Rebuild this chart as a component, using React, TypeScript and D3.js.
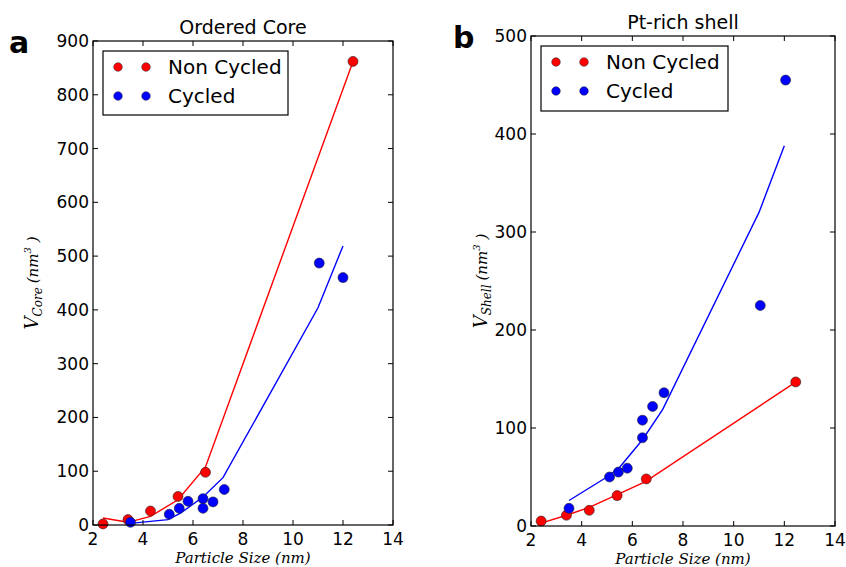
import React from "react";
import * as d3 from "d3";

const coreRedPts: [number, number][] = [[2.4, 2], [3.4, 10], [4.3, 26], [5.4, 53], [6.5, 98], [12.4, 862]];
const coreRedLine: [number, number][] = [[2.4, 13], [3.4, 5], [4.3, 16], [5.4, 47], [6.5, 108], [12.4, 862]];
const coreBluePts: [number, number][] = [[3.5, 5], [5.05, 20], [5.45, 31], [5.8, 44], [6.4, 49], [6.4, 31], [6.8, 43], [7.25, 66], [11.05, 487], [12.0, 460]];
const coreBlueLine: [number, number][] = [[3.5, 3], [5.0, 10], [5.5, 22], [6.4, 52], [7.2, 88], [11.0, 404], [12.0, 519]];

const shellRedPts: [number, number][] = [[2.4, 5], [3.4, 11], [4.3, 16], [5.4, 31], [6.55, 48], [12.45, 147]];
const shellRedLine: [number, number][] = [[2.4, 3], [3.4, 11], [4.3, 19], [5.4, 32], [6.5, 45], [12.4, 146]];
const shellBluePts: [number, number][] = [[3.5, 18], [5.1, 50], [5.45, 55], [5.8, 59], [6.4, 90], [6.4, 108], [6.8, 122], [7.25, 136], [11.05, 225], [12.05, 455]];
const shellBlueLine: [number, number][] = [[3.5, 26], [5.0, 50], [5.5, 60], [6.4, 88], [7.2, 119], [11.0, 320], [12.0, 388]];

const xTicks = [2, 4, 6, 8, 10, 12, 14];
const coreYTicks = [0, 100, 200, 300, 400, 500, 600, 700, 800, 900];
const shellYTicks = [0, 100, 200, 300, 400, 500];
const legendLabels = ["Non Cycled", "Cycled"];
const RED = "#ff0000";
const BLUE = "#0000ff";

type PanelProps = {
  x0: number; x1: number; y0: number; y1: number;
  yMax: number; yTicks: number[];
  redPts: [number, number][]; redLine: [number, number][];
  bluePts: [number, number][]; blueLine: [number, number][];
  title: string; letter: string; letterX: number; sub: string; ylabX: number;
  legend: { x: number; y: number; w: number; h: number };
};

function Panel(p: PanelProps) {
  const xs = d3.scaleLinear().domain([2, 14]).range([p.x0, p.x1]);
  const ys = d3.scaleLinear().domain([0, p.yMax]).range([p.y1, p.y0]);
  const line = d3.line<[number, number]>().x(d => xs(d[0])).y(d => ys(d[1]));
  const font = "DejaVu Sans, sans-serif";
  const tl = 5;
  const cx = (p.x0 + p.x1) / 2;
  const cy = (p.y0 + p.y1) / 2;
  return (
    <g>
      <text x={p.letterX} y={p.y0 + 12} fontFamily={font} fontWeight="bold" fontSize={30}>{p.letter}</text>
      <text x={cx} y={p.y0 - 7} textAnchor="middle" fontFamily={font} fontSize={19}>{p.title}</text>
      <path d={line(p.redLine) || ""} fill="none" stroke={RED} strokeWidth={1.4} />
      <path d={line(p.blueLine) || ""} fill="none" stroke={BLUE} strokeWidth={1.4} />
      {p.redPts.map((d, i) => (
        <circle key={"r" + i} cx={xs(d[0])} cy={ys(d[1])} r={5} fill={RED} stroke="#222" strokeWidth={0.6} />
      ))}
      {p.bluePts.map((d, i) => (
        <circle key={"b" + i} cx={xs(d[0])} cy={ys(d[1])} r={5} fill={BLUE} stroke="#222" strokeWidth={0.6} />
      ))}
      <rect x={p.x0} y={p.y0} width={p.x1 - p.x0} height={p.y1 - p.y0} fill="none" stroke="#000" strokeWidth={1.2} />
      {xTicks.map(t => (
        <g key={"xt" + t}>
          <line x1={xs(t)} x2={xs(t)} y1={p.y1} y2={p.y1 - tl} stroke="#000" />
          <line x1={xs(t)} x2={xs(t)} y1={p.y0} y2={p.y0 + tl} stroke="#000" />
          <text x={xs(t)} y={p.y1 + 20} textAnchor="middle" fontFamily={font} fontSize={17}>{t}</text>
        </g>
      ))}
      {p.yTicks.map(t => (
        <g key={"yt" + t}>
          <line x1={p.x0} x2={p.x0 + tl} y1={ys(t)} y2={ys(t)} stroke="#000" />
          <line x1={p.x1} x2={p.x1 - tl} y1={ys(t)} y2={ys(t)} stroke="#000" />
          <text x={p.x0 - 4} y={ys(t) + 6} textAnchor="end" fontFamily={font} fontSize={17}>{t}</text>
        </g>
      ))}
      <text x={cx} y={p.y1 + 38} textAnchor="middle" fontFamily="DejaVu Serif, serif" fontStyle="italic" fontSize={15}>
        Particle Size (nm)
      </text>
      <text transform={`translate(${p.ylabX},${cy}) rotate(-90)`} textAnchor="middle" fontFamily="DejaVu Serif, serif" fontStyle="italic">
        <tspan fontSize={18}>V</tspan>
        <tspan fontSize={12} dy={4}>{p.sub}</tspan>
        <tspan fontSize={15} dy={-4} dx={4}>(nm</tspan>
        <tspan fontSize={10} dy={-7}>3</tspan>
        <tspan fontSize={15} dy={7}> )</tspan>
      </text>
      <rect x={p.legend.x} y={p.legend.y} width={p.legend.w} height={p.legend.h} fill="#fff" stroke="#000" strokeWidth={1.2} />
      {legendLabels.map((lab, i) => {
        const yy = p.legend.y + 16 + i * 29;
        const c = i === 0 ? RED : BLUE;
        return (
          <g key={lab}>
            <circle cx={p.legend.x + 15} cy={yy} r={4.3} fill={c} stroke="#222" strokeWidth={0.5} />
            <circle cx={p.legend.x + 43} cy={yy} r={4.3} fill={c} stroke="#222" strokeWidth={0.5} />
            <text x={p.legend.x + 65} y={yy + 7} fontFamily={font} fontSize={20}>{lab}</text>
          </g>
        );
      })}
    </g>
  );
}

export default function App() {
  return (
    <svg width={846} height={567} style={{ position: "absolute", left: 0, top: 0, background: "#fff" }}>
      <rect width={846} height={567} fill="#fff" />
      <Panel x0={93} x1={393} y0={41} y1={525} yMax={900} yTicks={coreYTicks}
        redPts={coreRedPts} redLine={coreRedLine} bluePts={coreBluePts} blueLine={coreBlueLine}
        title="Ordered Core" letter="a" letterX={9} sub="Core" ylabX={38}
        legend={{ x: 103, y: 51, w: 185, h: 64 }} />
      <Panel x0={531} x1={835} y0={36} y1={526} yMax={500} yTicks={shellYTicks}
        redPts={shellRedPts} redLine={shellRedLine} bluePts={shellBluePts} blueLine={shellBlueLine}
        title="Pt-rich shell" letter="b" letterX={453} sub="Shell" ylabX={487}
        legend={{ x: 541, y: 46, w: 187, h: 65 }} />
    </svg>
  );
}
